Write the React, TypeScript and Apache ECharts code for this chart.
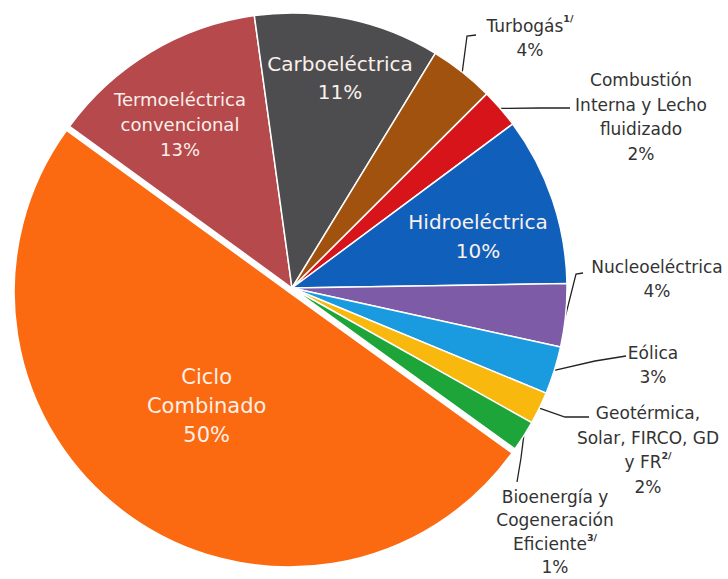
import React, { useEffect, useRef } from 'react';
import * as echarts from 'echarts';

// Slices listed clockwise, starting at the upper-left edge of "Termoeléctrica convencional"
const categories = [
  'Termoeléctrica convencional',
  'Carboeléctrica',
  'Turbogás',
  'Combustión Interna y Lecho fluidizado',
  'Hidroeléctrica',
  'Nucleoeléctrica',
  'Eólica',
  'Geotérmica, Solar, FIRCO, GD y FR',
  'Bioenergía y Cogeneración Eficiente',
  'Ciclo Combinado',
];
// shares as measured from the slice angles in the picture
const shares = [12.8, 10.9, 3.8, 2.3, 9.9, 3.7, 2.8, 1.9, 1.8, 50.0];
// percentages printed on the chart
const pctLabels = ['13%', '11%', '4%', '2%', '10%', '4%', '3%', '2%', '1%', '50%'];
const labelTexts = [
  'Termoeléctrica\nconvencional',
  'Carboeléctrica',
  'Turbogás{sup|1/}',
  'Combustión\nInterna y Lecho\nfluidizado',
  'Hidroeléctrica',
  'Nucleoeléctrica',
  'Eólica',
  'Geotérmica,\nSolar, FIRCO, GD\ny FR{sup|2/}',
  'Bioenergía y\nCogeneración\nEficiente{sup|3/}',
  'Ciclo\nCombinado',
];

const colors = [
  '#B5494C',
  '#4D4D4F',
  '#A0520E',
  '#D8141B',
  '#0F5FBB',
  '#7D5BA6',
  '#1A9BE0',
  '#F8B80E',
  '#1EA53A',
  '#FB6A10',
];

// label placement (layout only)
const labelLayouts: any[] = [
  { inside: true, x: 180, y: 124, fontSize: 18, lineHeight: 25 },
  { inside: true, x: 340, y: 78, fontSize: 20, lineHeight: 28 },
  { x: 530, y: 38, line: [[467, 36], [476, 35]] },
  { x: 641, y: 117, line: [[540, 108], [570, 108]] },
  { inside: true, x: 478, y: 236, fontSize: 20, lineHeight: 29 },
  { x: 657, y: 279, line: [[576, 274], [583, 273]] },
  { x: 653, y: 365, line: [[595, 361], [626, 356]] },
  { x: 648, y: 450, line: [[565, 417], [589, 417]] },
  { x: 555, y: 532, lineHeight: 23.5, line: [[521, 458], [517, 482]] },
  { inside: true, x: 195, y: 374, fontSize: 21, lineHeight: 29 },
];

const CENTER: [number, number] = [292, 288];
const RADIUS = 275;
const START_ANGLE = 144;

export default function App() {
  const ref = useRef<HTMLDivElement>(null);

  useEffect(() => {
    if (!ref.current) return;
    const chart = echarts.init(ref.current, undefined, { renderer: 'svg' });
    const total = shares.reduce((a, b) => a + b, 0);
    const edgePoint = (i: number) => {
      let before = 0;
      for (let k = 0; k < i; k++) before += shares[k];
      const mid = before + shares[i] / 2;
      const ang = ((START_ANGLE - (mid / total) * 360) * Math.PI) / 180;
      return [CENTER[0] + RADIUS * Math.cos(ang), CENTER[1] - RADIUS * Math.sin(ang)];
    };
    const fontFamily = '"DejaVu Sans", sans-serif';
    chart.setOption({
      animation: false,
      backgroundColor: '#ffffff',
      series: [
        {
          type: 'pie',
          center: CENTER,
          radius: RADIUS,
          startAngle: START_ANGLE,
          clockwise: true,
          selectedMode: 'single',
          selectedOffset: 5,
          avoidLabelOverlap: false,
          itemStyle: { borderColor: '#ffffff', borderWidth: 1.5 },
          emphasis: { disabled: true },
          labelLine: { lineStyle: { color: '#222', width: 1.3 }, length: 10, length2: 10 },
          data: categories.map((name, i) => {
            const L = labelLayouts[i];
            const lh = L.lineHeight ?? 24.5;
            return {
              name,
              value: shares[i],
              selected: i === 9,
              itemStyle: { color: colors[i] },
              label: {
                show: true,
                formatter: labelTexts[i] + '\n' + pctLabels[i],
                position: L.inside ? 'inside' : 'outside',
                color: L.inside ? '#FBF0EA' : '#333333',
                fontFamily,
                fontSize: L.fontSize ?? 17,
                lineHeight: lh,
                align: 'center',
                rich: {
                  sup: {
                    fontSize: 9.5,
                    fontWeight: 'bold',
                    color: '#333333',
                    fontFamily,
                    verticalAlign: 'top',
                    lineHeight: lh,
                  },
                },
              },
              labelLine: { show: !L.inside },
            };
          }),
          labelLayout: (params: any) => {
            const L = labelLayouts[params.dataIndex];
            const res: any = { x: L.x, y: L.y, align: 'center', verticalAlign: 'middle' };
            if (L.line) {
              const p0 =
                params.labelLinePoints && params.labelLinePoints[0]
                  ? params.labelLinePoints[0]
                  : edgePoint(params.dataIndex);
              res.labelLinePoints = [[p0[0], p0[1]], ...L.line];
            }
            return res;
          },
        },
      ],
    });
    return () => chart.dispose();
  }, []);

  return (
    <div
      ref={ref}
      style={{ position: 'fixed', left: 0, top: 0, width: 728, height: 579, background: '#fff' }}
    />
  );
}
